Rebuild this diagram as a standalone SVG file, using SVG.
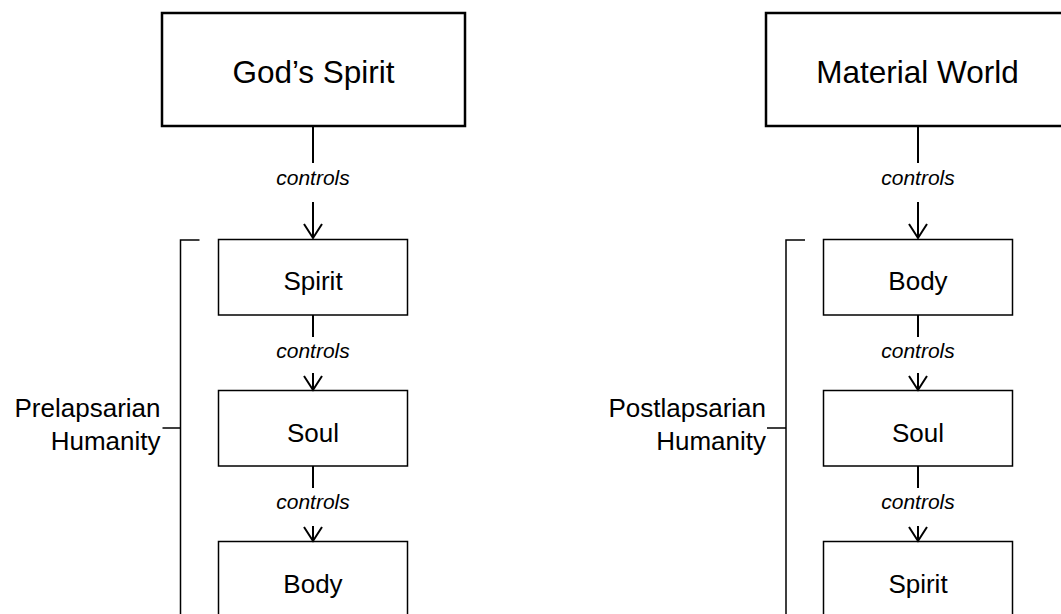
<svg xmlns="http://www.w3.org/2000/svg" width="1061" height="614" viewBox="0 0 1061 614">
  <defs>
    <style>
      .title { fill: #fff; stroke: #000; stroke-width: 2.5; }
      .box { fill: #fff; stroke: #000; stroke-width: 1.5; }
      .t { font-family: "Liberation Sans", Arial, sans-serif; fill: #000; text-anchor: middle; }
      .tt { font-size: 31.5px; }
      .nt { font-size: 26px; }
      .lab { font-family: "Liberation Sans", Arial, sans-serif; font-size: 21px; font-style: italic; fill: #000; text-anchor: middle; }
      .side { font-family: "Liberation Sans", Arial, sans-serif; font-size: 26px; fill: #000; text-anchor: end; }
      .conn { stroke: #000; stroke-width: 2; fill: none; }
      .brk { stroke: #000; stroke-width: 1.5; fill: none; }
    </style>
    <marker id="arr" markerUnits="userSpaceOnUse" markerWidth="20" markerHeight="20" refX="16" refY="10" orient="auto" viewBox="0 0 20 20">
      <path d="M2,1 L16,10 L2,19" fill="none" stroke="#000" stroke-width="2"/>
    </marker>
  </defs>

  <g id="gods-spirit">
    <rect class="title" x="162" y="13" width="303" height="113"/>
    <text class="t tt" x="313.5" y="82.5">God’s Spirit</text>
  </g>
  <g id="material-world">
    <rect class="title" x="766" y="13" width="303" height="113"/>
    <text class="t tt" x="917.5" y="82.5">Material World</text>
  </g>

  <g id="left-spirit">
    <rect class="box" x="218.5" y="239.5" width="189" height="75.5"/>
    <text class="t nt" x="313" y="290">Spirit</text>
  </g>
  <g id="left-soul">
    <rect class="box" x="218.5" y="390.5" width="189" height="75.5"/>
    <text class="t nt" x="313" y="441.5">Soul</text>
  </g>
  <g id="left-body">
    <rect class="box" x="218.5" y="541.5" width="189" height="80"/>
    <text class="t nt" x="313" y="592.5">Body</text>
  </g>

  <g id="right-body">
    <rect class="box" x="823.5" y="239.5" width="189" height="75.5"/>
    <text class="t nt" x="918" y="290">Body</text>
  </g>
  <g id="right-soul">
    <rect class="box" x="823.5" y="390.5" width="189" height="75.5"/>
    <text class="t nt" x="918" y="441.5">Soul</text>
  </g>
  <g id="right-spirit">
    <rect class="box" x="823.5" y="541.5" width="189" height="80"/>
    <text class="t nt" x="918" y="592.5">Spirit</text>
  </g>

  <g id="prelapsarian">
    <path class="brk" d="M199.5,240 H180.5 V614 M162.5,428 H180.5"/>
    <text class="side" x="160.5" y="416.5">Prelapsarian</text>
    <text class="side" x="160.5" y="449.5">Humanity</text>
  </g>
  <g id="postlapsarian">
    <path class="brk" d="M805,240 H786 V614 M767,428 H786"/>
    <text class="side" x="766" y="416.5">Postlapsarian</text>
    <text class="side" x="766" y="449.5">Humanity</text>
  </g>

  <g id="connectors">
    <path class="conn" d="M313,126 V163"/>
    <path class="conn" d="M313,202 V238" marker-end="url(#arr)"/>
    <text class="lab" x="313" y="185">controls</text>
    <path class="conn" d="M313,315 V337"/>
    <path class="conn" d="M313,373 V390" marker-end="url(#arr)"/>
    <text class="lab" x="313" y="358">controls</text>
    <path class="conn" d="M313,466 V488"/>
    <path class="conn" d="M313,526 V541" marker-end="url(#arr)"/>
    <text class="lab" x="313" y="509">controls</text>

    <path class="conn" d="M918,126 V163"/>
    <path class="conn" d="M918,202 V238" marker-end="url(#arr)"/>
    <text class="lab" x="918" y="185">controls</text>
    <path class="conn" d="M918,315 V337"/>
    <path class="conn" d="M918,373 V390" marker-end="url(#arr)"/>
    <text class="lab" x="918" y="358">controls</text>
    <path class="conn" d="M918,466 V488"/>
    <path class="conn" d="M918,526 V541" marker-end="url(#arr)"/>
    <text class="lab" x="918" y="509">controls</text>
  </g>
</svg>
